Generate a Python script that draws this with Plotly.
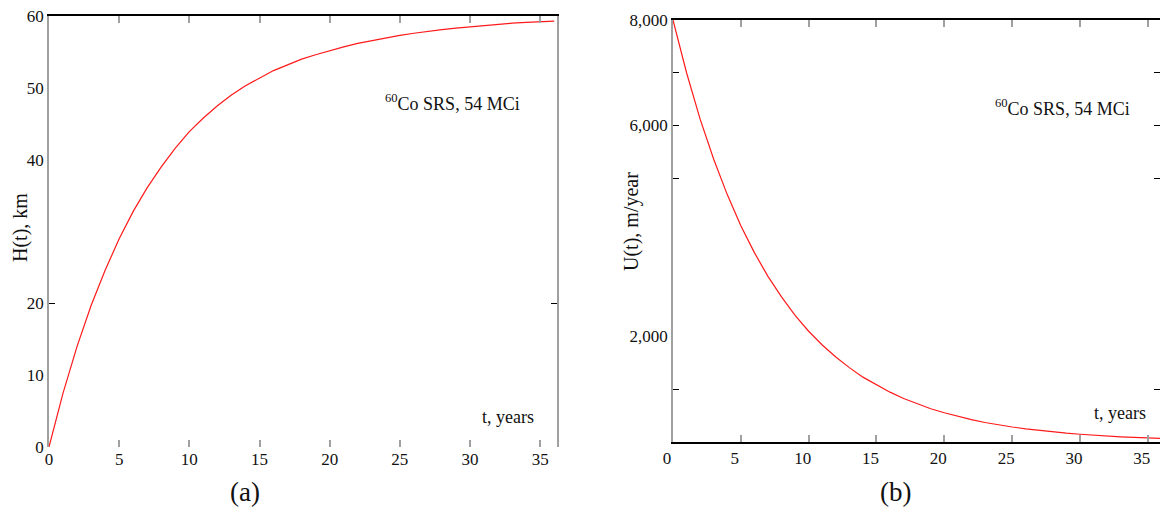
import plotly.graph_objects as go

# ---- data ----
t_years = list(range(0, 37))
H_km = [0, 7.5, 14.0, 19.7, 24.6, 29.0, 32.8, 36.1, 39.0, 41.6, 43.9,
        45.8, 47.5, 49.0, 50.3, 51.4, 52.4, 53.2, 54.0, 54.6, 55.2,
        55.7, 56.2, 56.6, 57.0, 57.3, 57.6, 57.9, 58.1, 58.3, 58.5,
        58.7, 58.85, 59.0, 59.1, 59.2, 59.3]
U_m_per_year = [8000, 7000, 6120, 5360, 4690, 4100, 3590, 3140, 2750, 2400, 2100,
                1840, 1610, 1410, 1230, 1080, 945, 825, 720, 630, 555,
                485, 425, 370, 325, 285, 250, 218, 190, 167, 147,
                128, 112, 98, 86, 75, 66]

x_ticks = [0, 5, 10, 15, 20, 25, 30, 35]
h_label_vals = [0, 10, 20, 40, 50, 60]
h_tick_vals = [20, 60]
u_label_vals = [2000, 6000, 8000]
u_label_text = ["2,000", "6,000", "8,000"]
u_tick_vals = [1000, 5000, 6000, 7000]

FONT = "Liberation Serif"
W, Hh = 1168, 510
OFF = 8  # page body margin of the html page
GRAY = "#a0a0a0"
RED = "#ff1a1a"

def px_x(p):
    return (p - OFF) / W

def px_y(p):
    return (Hh - (p - OFF)) / Hh

fig = go.Figure()
fig.add_trace(go.Scatter(x=t_years, y=H_km, mode="lines",
                         line=dict(color=RED, width=1.2), xaxis="x", yaxis="y",
                         showlegend=False, hoverinfo="skip"))
fig.add_trace(go.Scatter(x=t_years, y=U_m_per_year, mode="lines",
                         line=dict(color=RED, width=1.2), xaxis="x2", yaxis="y2",
                         showlegend=False, hoverinfo="skip"))

# invisible helper traces so that the frame axes (top / right / tick-only) get drawn
for xa, ya in [("x3", "y3"), ("x3", "y4"), ("x4", "y5"), ("x4", "y6")]:
    fig.add_trace(go.Scatter(x=[None], y=[None], mode="markers", xaxis=xa, yaxis=ya,
                             showlegend=False, hoverinfo="skip"))

tickfont = dict(family=FONT, size=17, color="#111")

xr1 = [0, 36.2]
xr2 = [0, 35.9]
yr1 = [0, 60]
yr2 = [0, 8000]

common = dict(showgrid=False, zeroline=False, automargin=False)

layout = dict(
    width=W, height=Hh,
    margin=dict(l=0, r=0, t=0, b=0, autoexpand=False),
    paper_bgcolor="white", plot_bgcolor="white",
    showlegend=False,
    # ---- left panel ----
    xaxis=dict(domain=[px_x(49), px_x(557)], range=xr1, anchor="y",
               tickvals=x_ticks, ticks="inside", ticklen=7, tickcolor=GRAY, tickwidth=1.5,
               showline=False, tickfont=tickfont, ticklabeloverflow="allow", **common),
    xaxis3=dict(overlaying="x", side="top", range=xr1, anchor="y3",
                tickvals=x_ticks[1:], ticks="inside", ticklen=7, tickcolor=GRAY, tickwidth=1.5,
                showline=True, linecolor="black", linewidth=1.5,
                showticklabels=False, **common),
    yaxis=dict(domain=[px_y(447), px_y(16)], range=yr1, anchor="x",
               tickvals=h_label_vals, ticks="", showline=True, linecolor=GRAY, linewidth=1.5,
               tickfont=tickfont, ticklabeloverflow="allow", **common),
    yaxis3=dict(overlaying="y", side="left", anchor="x3", range=yr1,
                tickvals=h_tick_vals, ticks="inside", ticklen=6, tickcolor="black", tickwidth=1.2,
                showline=False, showticklabels=False, **common),
    yaxis4=dict(overlaying="y", side="right", anchor="x3", range=yr1,
                tickvals=h_tick_vals, ticks="inside", ticklen=6, tickcolor="black", tickwidth=1.2,
                showline=True, linecolor=GRAY, linewidth=1.5,
                showticklabels=False, **common),
    # ---- right panel ----
    xaxis2=dict(domain=[px_x(673), px_x(1160)], range=xr2, anchor="y2",
                tickvals=x_ticks, ticks="inside", ticklen=7, tickcolor=GRAY, tickwidth=1.5,
                showline=True, linecolor="black", linewidth=1.5, ticklabelshift=-6,
                tickfont=tickfont, ticklabeloverflow="allow", **common),
    xaxis4=dict(overlaying="x2", side="top", range=xr2, anchor="y5",
                tickvals=x_ticks[1:], ticks="inside", ticklen=7, tickcolor=GRAY, tickwidth=1.5,
                showline=True, linecolor="black", linewidth=1.5,
                showticklabels=False, **common),
    yaxis2=dict(domain=[px_y(442), px_y(20)], range=yr2, anchor="x2",
                tickvals=u_label_vals, ticktext=u_label_text, ticks="",
                showline=True, linecolor=GRAY, linewidth=1.5,
                tickfont=tickfont, ticklabeloverflow="allow", **common),
    yaxis5=dict(overlaying="y2", side="left", anchor="x4", range=yr2,
                tickvals=u_tick_vals, ticks="inside", ticklen=6, tickcolor="black", tickwidth=1.2,
                showline=False, showticklabels=False, **common),
    yaxis6=dict(overlaying="y2", side="right", anchor="x4", range=yr2,
                tickvals=u_tick_vals, ticks="inside", ticklen=6, tickcolor="black", tickwidth=1.2,
                showline=True, linecolor=GRAY, linewidth=1.5,
                showticklabels=False, **common),
)
fig.update_layout(**layout)

def ann(text, x, y, size=16, angle=0):
    fig.add_annotation(text=text, x=px_x(x), y=px_y(y), xref="paper", yref="paper",
                       showarrow=False, xanchor="center", yanchor="middle",
                       textangle=angle, font=dict(family=FONT, size=size, color="#111"))

ann("H(t), km", 20, 228, size=20, angle=-90)
ann("U(t), m/year", 632, 222, size=20, angle=-90)
ann("<sup>60</sup>Co SRS, 54 MCi", 452, 102, size=18)
ann("<sup>60</sup>Co SRS, 54 MCi", 1062, 108, size=18)
ann("t, years", 508, 417, size=18)
ann("t, years", 1120, 413, size=18)
ann("(a)", 245, 492, size=27)
ann("(b)", 895, 492, size=27)

fig.write_html("out.html")
